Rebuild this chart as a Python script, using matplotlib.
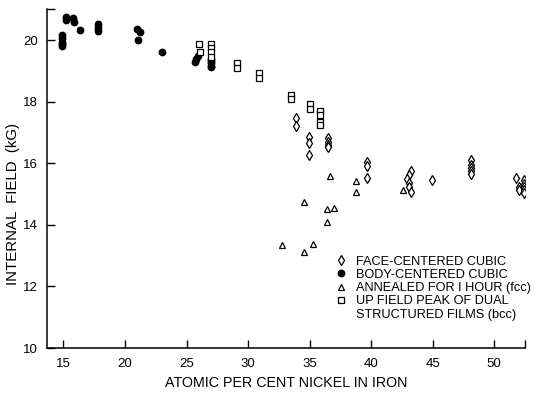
import matplotlib
matplotlib.use("Agg")
import matplotlib.pyplot as plt
from matplotlib.lines import Line2D
from matplotlib.ticker import FixedLocator

plt.rcParams['font.family'] = ['Liberation Sans', 'DejaVu Sans']

# Face-centered cubic films
fcc_ni = [33.93, 33.93, 34.95, 34.95, 34.95, 36.5, 36.5, 36.5, 36.5,
          39.69, 39.69, 39.69,
          43.2, 43.1, 42.9, 43.06, 43.1, 43.2, 44.97,
          48.15, 48.15, 48.15, 48.15, 48.15,
          51.78, 51.99, 52.05, 52.4, 52.4, 52.4, 52.4, 52.4]
fcc_field = [17.46, 17.21, 16.85, 16.65, 16.27, 16.81, 16.70, 16.60, 16.52,
             16.04, 15.90, 15.52,
             15.76, 15.62, 15.48, 15.35, 15.23, 15.08, 15.46,
             16.09, 15.95, 15.84, 15.76, 15.66,
             15.52, 15.23, 15.12, 15.44, 15.33, 15.23, 15.12, 15.03]

# Body-centered cubic films
bcc_ni = [14.85, 14.85, 14.85, 14.85, 14.85, 15.2, 15.2, 15.75, 15.85, 16.34,
          17.83, 17.83, 17.83, 20.94, 21.2, 21.07, 22.97,
          25.68, 25.8, 25.92, 27.0, 27.0, 27.0, 27.0, 27.0]
bcc_field = [20.15, 20.05, 19.95, 19.87, 19.80, 20.76, 20.65, 20.72, 20.59, 20.32,
             20.51, 20.40, 20.29, 20.36, 20.25, 20.00, 19.62,
             19.30, 19.38, 19.47, 19.40, 19.32, 19.25, 19.17, 19.12]

# Films annealed for one hour (fcc)
ann_ni = [32.79, 34.55, 34.55, 35.28, 36.41, 36.41, 36.69, 36.96, 38.8, 38.8, 42.58]
ann_field = [13.36, 13.11, 14.73, 13.39, 14.51, 14.08, 15.57, 14.56, 15.41, 15.08, 15.12]

# Up-field peak of dual structured films (bcc)
dual_ni = [26.02, 26.08, 27.0, 27.0, 27.0, 27.0, 29.06, 29.14, 30.87, 30.87,
           33.52, 33.52, 35.0, 35.0, 35.82, 35.82, 35.82, 35.82]
dual_field = [19.87, 19.62, 19.87, 19.73, 19.60, 19.46, 19.24, 19.08, 18.92, 18.76,
              18.22, 18.08, 17.93, 17.75, 17.71, 17.57, 17.35, 17.24]

x_ticks = [15, 20, 25, 30, 35, 40, 45, 50]
y_ticks = [10, 12, 14, 16, 18, 20]

fig = plt.figure(figsize=(5.42, 3.93), dpi=100)
ax = fig.add_axes([0.0876, 0.1145, 0.881, 0.862])

open_style = dict(linestyle='none', markerfacecolor='white',
                  markeredgecolor='black', markeredgewidth=0.9)

h_fcc, = ax.plot(fcc_ni, fcc_field, marker='d', markersize=5.2, **open_style)
h_bcc, = ax.plot(bcc_ni, bcc_field, linestyle='none', marker='o',
                 markersize=4.6, color='black')
h_ann, = ax.plot(ann_ni, ann_field, marker='^', markersize=4.4, **open_style)
h_dual, = ax.plot(dual_ni, dual_field, marker='s', markersize=4.0, **open_style)

ax.set_xlim(13.7, 52.5)
ax.set_ylim(10, 21)
ax.spines['top'].set_visible(False)
ax.spines['right'].set_visible(False)
for s in ('left', 'bottom'):
    ax.spines[s].set_linewidth(1.1)

ax.set_xticks(x_ticks)
ax.set_xticklabels([str(v) for v in x_ticks])
ax.set_yticks(y_ticks)
ax.set_yticklabels([str(v) for v in y_ticks])
ax.xaxis.set_minor_locator(FixedLocator([52.5]))
ax.yaxis.set_minor_locator(FixedLocator([21]))
ax.tick_params(axis='both', which='major', direction='in', length=6, width=1.0,
               labelsize=9.5, pad=7)
ax.tick_params(axis='both', which='minor', direction='in', length=6, width=1.0)

ax.set_xlabel('ATOMIC PER CENT NICKEL IN IRON', fontsize=10.3, labelpad=4.5)
ax.set_ylabel('INTERNAL  FIELD  (kG)', fontsize=10.8, labelpad=2, y=0.425)

# second line of the last legend entry, carried by an empty handle
blank = Line2D([], [], linestyle='none', marker='none')
ax.legend([h_fcc, h_bcc, h_ann, h_dual, blank],
          ['FACE-CENTERED CUBIC', 'BODY-CENTERED CUBIC',
           'ANNEALED FOR I HOUR (fcc)', 'UP FIELD PEAK OF DUAL',
           'STRUCTURED FILMS (bcc)'],
          loc='upper left', bbox_to_anchor=(0.604, 0.273), frameon=False,
          fontsize=9.2, handlelength=0.8, handletextpad=0.8, labelspacing=0.1,
          borderaxespad=0, borderpad=0)

fig.savefig('out.png', dpi=100)
